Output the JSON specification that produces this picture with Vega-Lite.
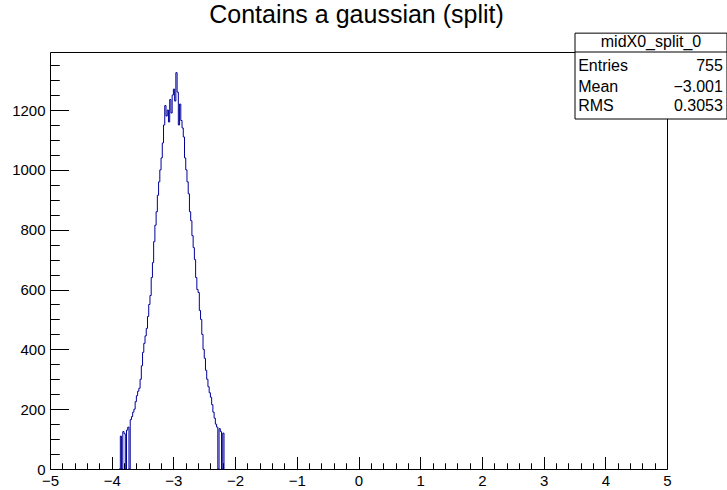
{
  "$schema": "https://vega.github.io/schema/vega-lite/v6.json",
  "width": 617,
  "height": 417,
  "autosize": {"type": "none"},
  "padding": {"left": 50, "top": 52, "right": 60, "bottom": 21},
  "background": "white",
  "title": {
    "text": "Contains a gaussian (split)",
    "font": "Liberation Sans",
    "fontSize": 25,
    "fontWeight": "normal",
    "color": "black",
    "anchor": "middle",
    "frame": "group",
    "offset": 5,
    "dx": -2
  },
  "config": {
    "view": {"stroke": "black", "strokeWidth": 1},
    "axis": {
      "grid": false,
      "domain": false,
      "tickColor": "black",
      "tickWidth": 1,
      "labelFont": "Liberation Sans",
      "labelFontSize": 15,
      "labelColor": "black",
      "labelFlush": false,
      "labelOverlap": false,
      "labelBound": false,
      "title": null
    },
    "text": {"font": "Liberation Sans", "fontSize": 16, "color": "black"}
  },
  "resolve": {"axis": {"x": "independent", "y": "independent"}},
  "layer": [
    {
      "data": {"name": "hist", "values": [
        {"x": -3.88, "n": 0}, {"x": -3.86, "n": 110}, {"x": -3.84, "n": 0}, {"x": -3.82, "n": 125},
        {"x": -3.80, "n": 118}, {"x": -3.78, "n": 0}, {"x": -3.76, "n": 130}, {"x": -3.74, "n": 140},
        {"x": -3.72, "n": 0}, {"x": -3.70, "n": 165}, {"x": -3.68, "n": 175}, {"x": -3.66, "n": 190},
        {"x": -3.64, "n": 200}, {"x": -3.62, "n": 225}, {"x": -3.60, "n": 245}, {"x": -3.58, "n": 260},
        {"x": -3.56, "n": 270}, {"x": -3.54, "n": 300}, {"x": -3.52, "n": 345}, {"x": -3.50, "n": 390},
        {"x": -3.48, "n": 420}, {"x": -3.46, "n": 445}, {"x": -3.44, "n": 470}, {"x": -3.42, "n": 510},
        {"x": -3.40, "n": 550}, {"x": -3.38, "n": 580}, {"x": -3.36, "n": 640}, {"x": -3.34, "n": 690},
        {"x": -3.32, "n": 760}, {"x": -3.30, "n": 815}, {"x": -3.28, "n": 860}, {"x": -3.26, "n": 915},
        {"x": -3.24, "n": 960}, {"x": -3.22, "n": 1000}, {"x": -3.20, "n": 1040}, {"x": -3.18, "n": 1090},
        {"x": -3.16, "n": 1150}, {"x": -3.14, "n": 1215}, {"x": -3.12, "n": 1180}, {"x": -3.10, "n": 1200},
        {"x": -3.08, "n": 1160}, {"x": -3.06, "n": 1235}, {"x": -3.04, "n": 1190}, {"x": -3.02, "n": 1250},
        {"x": -3.00, "n": 1270}, {"x": -2.98, "n": 1230}, {"x": -2.96, "n": 1325}, {"x": -2.94, "n": 1260},
        {"x": -2.92, "n": 1150}, {"x": -2.90, "n": 1220}, {"x": -2.88, "n": 1165}, {"x": -2.86, "n": 1140},
        {"x": -2.84, "n": 1110}, {"x": -2.82, "n": 1040}, {"x": -2.80, "n": 1000}, {"x": -2.78, "n": 960},
        {"x": -2.76, "n": 920}, {"x": -2.74, "n": 860}, {"x": -2.72, "n": 830}, {"x": -2.70, "n": 780},
        {"x": -2.68, "n": 740}, {"x": -2.66, "n": 700}, {"x": -2.64, "n": 640}, {"x": -2.62, "n": 600},
        {"x": -2.60, "n": 590}, {"x": -2.58, "n": 530}, {"x": -2.56, "n": 500}, {"x": -2.54, "n": 450},
        {"x": -2.52, "n": 400}, {"x": -2.50, "n": 370}, {"x": -2.48, "n": 330}, {"x": -2.46, "n": 300},
        {"x": -2.44, "n": 275}, {"x": -2.42, "n": 255}, {"x": -2.40, "n": 240}, {"x": -2.38, "n": 215},
        {"x": -2.36, "n": 190}, {"x": -2.34, "n": 170}, {"x": -2.32, "n": 150}, {"x": -2.30, "n": 140},
        {"x": -2.28, "n": 0}, {"x": -2.26, "n": 135}, {"x": -2.24, "n": 125}, {"x": -2.22, "n": 0},
        {"x": -2.20, "n": 120}, {"x": -2.18, "n": 0}
      ]},
      "resolve": {"axis": {"x": "independent", "y": "independent"}},
      "layer": [
        {
          "mark": {"type": "line", "interpolate": "step-after", "color": "#000099", "strokeWidth": 1},
          "encoding": {
            "x": {"field": "x", "type": "quantitative",
                  "scale": {"domain": [-5, 5], "nice": false, "zero": false},
                  "axis": {"orient": "bottom", "values": [-5, -4, -3, -2, -1, 0, 1, 2, 3, 4, 5], "format": "d", "tickSize": -12.5, "labelPadding": 16.5}},
            "y": {"field": "n", "type": "quantitative",
                  "scale": {"domain": [0, 1394], "nice": false},
                  "axis": {"orient": "left", "values": [0, 200, 400, 600, 800, 1000, 1200], "format": "d", "tickSize": -18.5, "labelPadding": 23.5}}
          }
        },
        {
          "mark": {"type": "line", "strokeOpacity": 0},
          "encoding": {
            "x": {"field": "x", "type": "quantitative",
                  "axis": {"orient": "bottom", "labels": false, "tickSize": -6.25,
                           "values": [-4.8, -4.6, -4.4, -4.2, -3.8, -3.6, -3.4, -3.2, -2.8, -2.6, -2.4, -2.2, -1.8, -1.6, -1.4, -1.2, -0.8, -0.6, -0.4, -0.2, 0.2, 0.4, 0.6, 0.8, 1.2, 1.4, 1.6, 1.8, 2.2, 2.4, 2.6, 2.8, 3.2, 3.4, 3.6, 3.8, 4.2, 4.4, 4.6, 4.8]}},
            "y": {"field": "n", "type": "quantitative",
                  "axis": {"orient": "left", "labels": false, "tickSize": -9.25,
                           "values": [50, 100, 150, 250, 300, 350, 450, 500, 550, 650, 700, 750, 850, 900, 950, 1050, 1100, 1150, 1250, 1300, 1350]}}
          }
        }
      ]
    },
    {
      "data": {"values": [{"name": "midX0_split_0", "entries": "755", "mean": "−3.001", "rms": "0.3053"}]},
      "layer": [
        {
          "mark": {"type": "rect", "fill": "white", "stroke": "black", "strokeWidth": 1},
          "encoding": {
            "x": {"datum": 3.509, "type": "quantitative", "axis": null},
            "x2": {"datum": 5.972},
            "y": {"datum": 1457, "type": "quantitative", "axis": null},
            "y2": {"datum": 1170}
          }
        },
        {
          "mark": {"type": "rule", "color": "black", "strokeWidth": 1},
          "encoding": {
            "x": {"datum": 3.509, "type": "quantitative", "axis": null},
            "x2": {"datum": 5.972},
            "y": {"datum": 1394, "type": "quantitative", "axis": null}
          }
        },
        {
          "mark": {"type": "text", "align": "center", "baseline": "middle"},
          "encoding": {
            "text": {"field": "name"},
            "x": {"datum": 4.741, "type": "quantitative", "axis": null},
            "y": {"datum": 1427, "type": "quantitative", "axis": null}
          }
        },
        {
          "mark": {"type": "text", "align": "left", "baseline": "middle", "text": "Entries"},
          "encoding": {
            "x": {"datum": 3.56, "type": "quantitative", "axis": null},
            "y": {"datum": 1347, "type": "quantitative", "axis": null}
          }
        },
        {
          "mark": {"type": "text", "align": "right", "baseline": "middle"},
          "encoding": {
            "text": {"field": "entries"},
            "x": {"datum": 5.905, "type": "quantitative", "axis": null},
            "y": {"datum": 1347, "type": "quantitative", "axis": null}
          }
        },
        {
          "mark": {"type": "text", "align": "left", "baseline": "middle", "text": "Mean"},
          "encoding": {
            "x": {"datum": 3.56, "type": "quantitative", "axis": null},
            "y": {"datum": 1277, "type": "quantitative", "axis": null}
          }
        },
        {
          "mark": {"type": "text", "align": "right", "baseline": "middle"},
          "encoding": {
            "text": {"field": "mean"},
            "x": {"datum": 5.905, "type": "quantitative", "axis": null},
            "y": {"datum": 1277, "type": "quantitative", "axis": null}
          }
        },
        {
          "mark": {"type": "text", "align": "left", "baseline": "middle", "text": "RMS"},
          "encoding": {
            "x": {"datum": 3.56, "type": "quantitative", "axis": null},
            "y": {"datum": 1213, "type": "quantitative", "axis": null}
          }
        },
        {
          "mark": {"type": "text", "align": "right", "baseline": "middle"},
          "encoding": {
            "text": {"field": "rms"},
            "x": {"datum": 5.905, "type": "quantitative", "axis": null},
            "y": {"datum": 1213, "type": "quantitative", "axis": null}
          }
        }
      ]
    }
  ]
}
